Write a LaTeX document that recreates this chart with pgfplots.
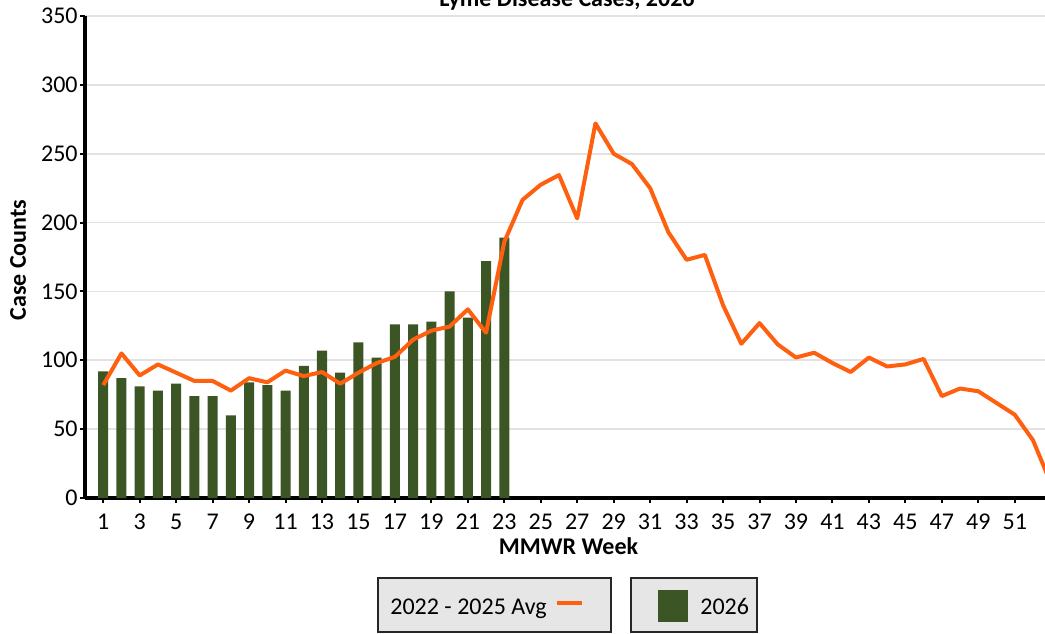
\documentclass[border=0pt]{standalone}
\usepackage{pgfplots}
\pgfplotsset{compat=1.18}
\usepackage{fontspec}
\setmainfont{Carlito}
\definecolor{bargreen}{RGB}{59,86,36}
\definecolor{lineorange}{RGB}{255,96,16}
\definecolor{gridgray}{RGB}{226,226,226}
\definecolor{legfill}{RGB}{230,230,230}
\begin{document}
\begin{tikzpicture}[font=\fontsize{12}{14}\selectfont]
\path[use as bounding box] (-42.5pt,-67.5pt) rectangle (480pt,249pt);
\begin{axis}[
  scale only axis, width=480pt, height=241pt,
  xmin=0, xmax=52.66, ymin=0, ymax=350,
  axis x line*=bottom, axis y line*=left,
  axis line style={line width=2pt, -},
  xtick={1,3,...,51}, ytick={0,50,...,350},
  tick align=outside, major tick length=2.5pt,
  tick style={black, line width=1pt},
  ymajorgrids, grid style={gridgray, line width=0.8pt},
  /pgf/number format/assume math mode=true,
  ticklabel style={font=\fontsize{12}{14}\selectfont},
  yticklabel style={anchor=east, inner sep=0pt, xshift=-1pt},
  xticklabel style={anchor=north, inner sep=0pt, yshift=-5.5pt},
]
\addplot[ybar, bar width=0.55, fill=bargreen, draw=none] coordinates {
(1,92) (2,87) (3,81) (4,78) (5,83) (6,74) (7,74) (8,60) (9,84) (10,82)
(11,78) (12,96) (13,107) (14,91) (15,113) (16,102) (17,126) (18,126)
(19,128) (20,150) (21,131) (22,172) (23,189)};
\addplot[lineorange, line width=2pt, line join=round] coordinates {
(1,82) (2,105) (3,89) (4,97) (5,91) (6,85) (7,85) (8,78) (9,87) (10,84)
(11,92.5) (12,88.5) (13,91.5) (14,83) (15,91) (16,98) (17,102.5) (18,115)
(19,121.5) (20,124.5) (21,137) (22,120) (23,186) (24,216.5) (25,227.5)
(26,234.5) (27,203) (28,272) (29,250) (30,242.5) (31,225) (32,193)
(33,173) (34,176.5) (35,140) (36,112) (37,127) (38,111.5) (39,102)
(40,105.5) (41,98) (42,91.5) (43,102) (44,95.5) (45,97) (46,101) (47,74)
(48,79.5) (49,77.5) (50,69) (51,60.5) (52,42) (53,10)};
\end{axis}
\node[font=\bfseries\fontsize{12}{14}\selectfont, anchor=base] at (241pt,245.5pt) {Lyme Disease Cases, 2026};
\node[font=\bfseries\fontsize{12}{14}\selectfont, rotate=90] at (-33.5pt,119pt) {Case Counts};
\node[font=\bfseries\fontsize{12}{14}\selectfont, anchor=base] at (241.75pt,-28pt) {MMWR Week};
% legend
\draw[fill=legfill, draw=black!85, line width=1pt] (146.5pt,-40pt) rectangle (263pt,-67pt);
\node[anchor=base west, inner sep=0pt] at (152.5pt,-58pt) {2022 - 2025 Avg};
\draw[lineorange, line width=2pt] (236pt,-52.5pt) -- (248.5pt,-52.5pt);
\draw[fill=legfill, draw=black!85, line width=1pt] (273pt,-40pt) rectangle (336pt,-67pt);
\fill[bargreen] (286.5pt,-46pt) rectangle (301.5pt,-62pt);
\node[anchor=base west, inner sep=0pt] at (307.5pt,-58pt) {2026};
\end{tikzpicture}
\end{document}
